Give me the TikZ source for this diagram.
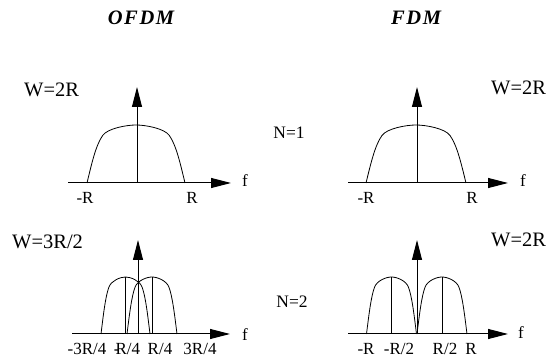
\documentclass[tikz,border=0pt]{standalone}
\usepackage{fontspec}
\setmainfont{Liberation Serif}
\usetikzlibrary{arrows.meta}
\tikzset{
  axis/.style={line width=1pt, -{Triangle[length=20pt,width=10pt]}},
  humpline/.style={line width=0.8pt},
  tick/.style={line width=0.8pt},
  lbl/.style={inner sep=0pt, font=\fontsize{17}{17}\selectfont},
  wlbl/.style={inner sep=0pt, anchor=west, font=\fontsize{20.5}{20.5}\selectfont},
  nlbl/.style={inner sep=0pt, font=\fontsize{17.5}{17.5}\selectfont},
  ttl/.style={inner sep=0pt, font=\fontsize{20.5}{20.5}\selectfont\bfseries\itshape\addfontfeature{LetterSpace=8}},
}
\newcommand\humpshape[4]{% center, half width, height, baseline
  \draw[humpline] (#1-#2,#4)
     .. controls (#1-0.9*#2,#4-0.35*#3) and (#1-0.82*#2,#4-0.65*#3) .. (#1-0.68*#2,#4-0.82*#3)
     .. controls (#1-0.58*#2,#4-0.94*#3) and (#1-0.2*#2,#4-#3) .. (#1,#4-#3)
     .. controls (#1+0.2*#2,#4-#3) and (#1+0.58*#2,#4-0.94*#3) .. (#1+0.68*#2,#4-0.82*#3)
     .. controls (#1+0.82*#2,#4-0.65*#3) and (#1+0.9*#2,#4-0.35*#3) .. (#1+#2,#4);}
\begin{document}
\begin{tikzpicture}[x=1pt,y=-1pt]
\useasboundingbox (0,0) rectangle (550,358);
% titles
\node[ttl] (t1) at (141,18) {OFDM};
\node[ttl] (t2) at (416,18) {FDM};
% ---------- top left ----------
\coordinate (a1o) at (137,183);
\coordinate (a1t) at (137,87);
\coordinate (a1l) at (68,183);
\coordinate (a1r) at (231,183);
\humpshape{136}{49}{58}{183}
\draw[axis] (a1o) -- (a1t);
\draw[axis] (a1l) -- (a1r);
\node[lbl] (f1) at (245,181) {f};
\node[lbl] (l1a) at (85,198) {-R};
\node[lbl] (l1b) at (192,198) {R};
\node[wlbl] (w1) at (24,90) {W=2R};
% ---------- top right ----------
\coordinate (a2o) at (417,183);
\coordinate (a2t) at (417,87);
\coordinate (a2l) at (348,183);
\coordinate (a2r) at (508,183);
\humpshape{416}{50}{58}{183}
\draw[axis] (a2o) -- (a2t);
\draw[axis] (a2l) -- (a2r);
\node[lbl] (f2) at (523,181) {f};
\node[lbl] (l2a) at (366,198) {-R};
\node[lbl] (l2b) at (472,198) {R};
\node[wlbl] (w2) at (491,88) {W=2R};
\node[nlbl] (n1) at (289,133) {N=1};
% ---------- bottom left ----------
\coordinate (a3o) at (138,334);
\coordinate (a3t) at (138,240);
\coordinate (a3l) at (72,334);
\coordinate (a3r) at (230,334);
\humpshape{125.5}{24.5}{57}{334}
\humpshape{152}{25}{57}{334}
\coordinate (c3a) at (125.5,334); \coordinate (p3a) at (125.5,277);
\coordinate (c3b) at (152,334); \coordinate (p3b) at (152,277);
\draw[tick] (c3a) -- (p3a);
\draw[tick] (c3b) -- (p3b);
\draw[axis] (a3o) -- (a3t);
\draw[axis] (a3l) -- (a3r);
\node[lbl] (f3) at (245,335) {f};
\node[lbl] (l3a) at (87,349) {-3R/4};
\node[lbl] (l3b) at (127,349) {-\kern-4pt R/4};
\node[lbl] (l3c) at (160,349) {R/4};
\node[lbl] (l3d) at (200,349) {3R/4};
\node[wlbl] (w3) at (12,242) {W=3R/2};
% ---------- bottom right ----------
\coordinate (a4o) at (417,334);
\coordinate (a4t) at (417,240);
\coordinate (a4l) at (348,334);
\coordinate (a4r) at (508,334);
\humpshape{391.5}{25}{57}{334}
\humpshape{442}{25}{57}{334}
\coordinate (c4a) at (391.5,334); \coordinate (p4a) at (391.5,277);
\coordinate (c4b) at (442,334); \coordinate (p4b) at (442,277);
\draw[tick] (c4a) -- (p4a);
\draw[tick] (c4b) -- (p4b);
\draw[axis] (a4o) -- (a4t);
\draw[axis] (a4l) -- (a4r);
\node[lbl] (f4) at (521,333) {f};
\node[lbl] (l4a) at (366,349) {-R};
\node[lbl] (l4b) at (399,349) {-R/2};
\node[lbl] (l4c) at (445,349) {R/2};
\node[lbl] (l4d) at (471,349) {R};
\node[wlbl] (w4) at (491,240) {W=2R};
\node[nlbl] (n2) at (292,302) {N=2};
\end{tikzpicture}
\end{document}
